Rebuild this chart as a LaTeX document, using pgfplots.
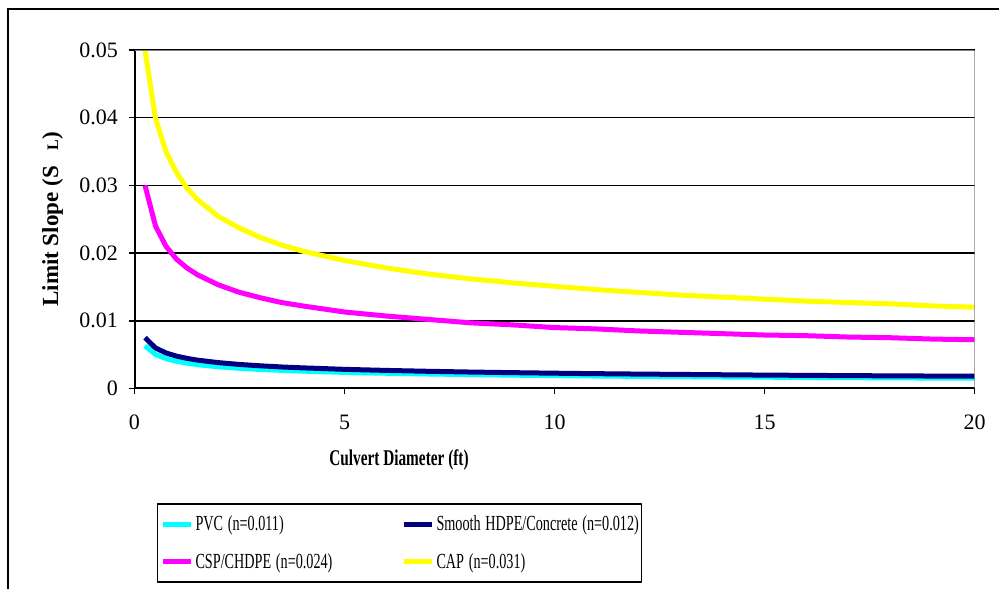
\documentclass[border=0pt]{standalone}
\usepackage{fontspec}
\setmainfont{Liberation Serif}
\usepackage{graphicx}
\usepackage{pgfplots}
\usepackage{pgfplotstable}
\pgfplotsset{compat=1.18}
\definecolor{cPVC}{RGB}{0,255,255}
\definecolor{cHDPE}{RGB}{0,0,128}
\definecolor{cCSP}{RGB}{255,0,255}
\definecolor{cCAP}{RGB}{255,255,0}
\definecolor{frameGray}{RGB}{128,128,128}
\newcommand{\cond}[1]{\scalebox{0.66}[1]{#1}}
\pgfplotstableread{
D     PVC      HDPE     CSP     CAP
0.25  0.0063   0.0075   0.0300  0.0500
0.5   0.00504  0.00599  0.0240  0.0399
0.75  0.00441  0.00525  0.0210  0.0350
1     0.00402  0.00478  0.0191  0.0319
1.25  0.00374  0.00445  0.0178  0.0296
1.5   0.00352  0.00419  0.0168  0.0279
2     0.00321  0.00382  0.0153  0.0254
2.5   0.00298  0.00355  0.0142  0.0237
3     0.00281  0.00335  0.0134  0.0223
3.5   0.00268  0.00318  0.0127  0.0212
4     0.00256  0.00305  0.0122  0.0203
5     0.00238  0.00283  0.0113  0.0189
6     0.00225  0.00267  0.0107  0.0178
7     0.00214  0.00254  0.0102  0.0169
8     0.00205  0.00243  0.0097  0.0162
9     0.00197  0.00234  0.0094  0.0156
10    0.00190  0.00226  0.0090  0.0151
11    0.00184  0.00219  0.0088  0.0146
12    0.00179  0.00213  0.0085  0.0142
13    0.00175  0.00208  0.0083  0.0138
14    0.00170  0.00203  0.0081  0.0135
15    0.00167  0.00198  0.0079  0.0132
16    0.00163  0.00194  0.0078  0.0129
17    0.00160  0.00190  0.0076  0.0127
18    0.00157  0.00187  0.0075  0.0125
19    0.00154  0.00184  0.0073  0.0122
20    0.00152  0.00181  0.0072  0.0120
}\datatable
\begin{document}
\begin{tikzpicture}
\begin{axis}[
  at={(134.5pt,200.5pt)}, anchor=south west,
  scale only axis, width=840pt, height=338.5pt,
  xmin=0, xmax=20, ymin=0, ymax=0.05,
  axis lines*=left,
  axis line style={-, black, line width=2pt},
  xtick={0,5,10,15,20},
  ytick={0,0.01,0.02,0.03,0.04,0.05},
  scaled y ticks=false,
  tick align=outside,
  major tick length=6pt,
  tick style={black, line width=1.5pt},
  ymajorgrids,
  major grid style={black, line width=1.5pt},
  /pgf/number format/assume math mode=true,
  yticklabel style={/pgf/number format/fixed, /pgf/number format/precision=2, font=\fontsize{22}{26}\selectfont, xshift=-7pt},
  xticklabel style={font=\fontsize{22}{26}\selectfont, yshift=-17pt},
  xlabel={\scalebox{0.68}[1]{\bfseries Culvert Diameter (ft)}},
  xlabel style={at={(axis description cs:0.3149,-0.2112)}, anchor=center, font=\fontsize{22.5}{26}\selectfont},
  ylabel={\bfseries Limit Slope (S\hspace{16pt}{\fontsize{16}{16}\selectfont L})},
  ylabel style={at={(axis description cs:-0.0976,0.5)}, anchor=center, font=\fontsize{23}{27}\selectfont},
  legend columns=2,
  legend cell align=left,
  legend image code/.code={\draw[#1, line width=5pt] (0pt,0pt) -- (28pt,0pt);},
  legend style={at={(axis description cs:0.3155,-0.4564)}, anchor=center,
    draw=black, line width=1.5pt, inner xsep=3pt, inner ysep=10pt,
    font=\fontsize{21.5}{25}\selectfont,
    nodes={inner sep=2pt, text width=200pt, align=left},
    row sep=17pt,
    /tikz/every odd column/.append style={column sep=0pt},
    /tikz/every even column/.append style={column sep=4pt}},
  line join=round,
]
\addplot[cPVC, line width=5pt, no markers] table[x=D, y=PVC] {\datatable};
\addlegendentry{\cond{PVC (n=0.011)}}
\addplot[cHDPE, line width=5pt, no markers] table[x=D, y=HDPE] {\datatable};
\addlegendentry{\cond{Smooth HDPE/Concrete (n=0.012)}}
\addplot[cCSP, line width=5pt, no markers] table[x=D, y=CSP] {\datatable};
\addlegendentry{\cond{CSP/CHDPE (n=0.024)}}
\addplot[cCAP, line width=5pt, no markers] table[x=D, y=CAP] {\datatable};
\addlegendentry{\cond{CAP (n=0.031)}}
\draw[frameGray, line width=2pt] (rel axis cs:0,1) -- (rel axis cs:1,1) -- (rel axis cs:1,0);
\end{axis}
\draw[black, line width=2pt] (8.3pt,-30pt) rectangle (1030pt,579.7pt);
\pgfresetboundingbox
\useasboundingbox (0pt,0pt) rectangle (999pt,589pt);
\end{tikzpicture}
\end{document}
